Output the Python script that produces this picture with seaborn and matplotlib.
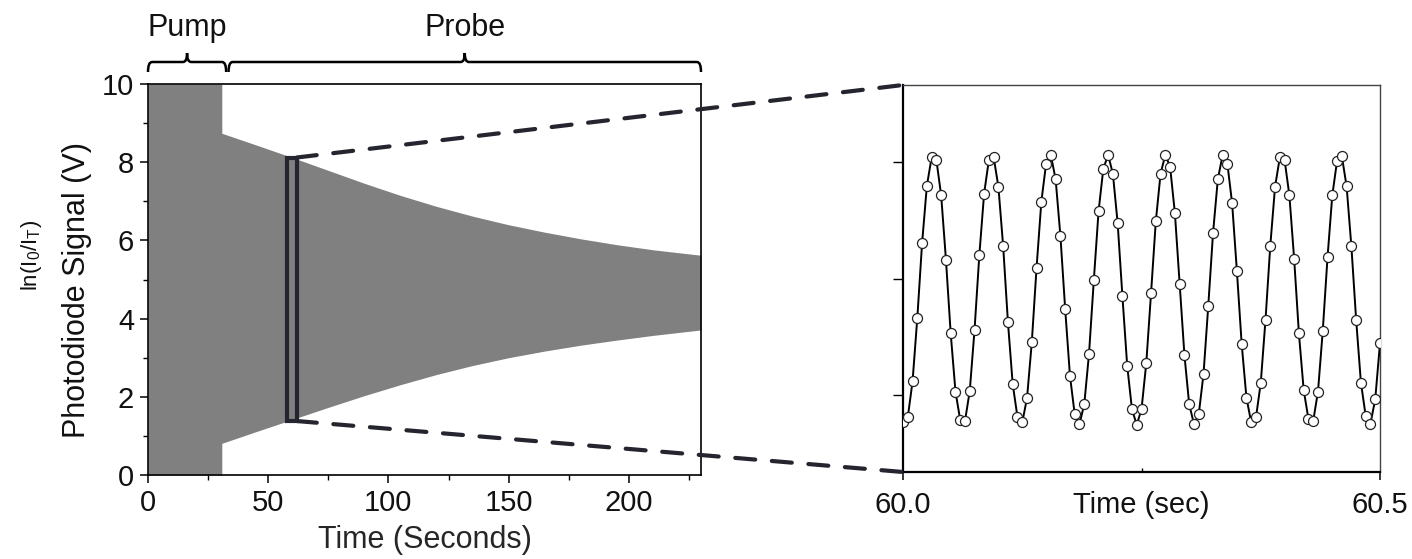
import numpy as np
import pandas as pd
import seaborn as sns
import matplotlib.pyplot as plt
import matplotlib.transforms as mtransforms
from matplotlib.patches import Rectangle, ConnectionPatch, PathPatch
from matplotlib.path import Path

# ---------------------------------------------------------------------------
# Data
# ---------------------------------------------------------------------------
# Envelope of the photodiode trace (pump phase saturates the full range,
# probe phase is a decaying oscillation about ~4.7 V)
env_time = [0, 30.7, 30.7, 45, 60, 75, 90, 105, 120, 135, 150, 165, 180, 195, 210, 230]
env_upper = [10, 10, 8.74, 8.44, 8.12, 7.79, 7.46, 7.15, 6.87, 6.62, 6.40, 6.21,
             6.04, 5.89, 5.76, 5.62]
env_lower = [0, 0, 0.81, 1.11, 1.42, 1.73, 2.03, 2.31, 2.57, 2.80, 3.00, 3.17,
             3.32, 3.45, 3.57, 3.71]

# Experiment phases shown as brackets above the trace
phase_names = ["Pump", "Probe"]
phase_start = [0, 33.5]
phase_end = [32.5, 230]

# Window that is expanded in the right-hand panel
zoom_time = (57.9, 61.9)
zoom_signal = (1.38, 8.12)

# Sampled signal between 60.0 s and 60.5 s (5 ms sampling)
fast_time = [
    60.000, 60.005, 60.010, 60.015, 60.020, 60.025, 60.030, 60.035, 60.040, 60.045,
    60.050, 60.055, 60.060, 60.065, 60.070, 60.075, 60.080, 60.085, 60.090, 60.095,
    60.100, 60.105, 60.110, 60.115, 60.120, 60.125, 60.130, 60.135, 60.140, 60.145,
    60.150, 60.155, 60.160, 60.165, 60.170, 60.175, 60.180, 60.185, 60.190, 60.195,
    60.200, 60.205, 60.210, 60.215, 60.220, 60.225, 60.230, 60.235, 60.240, 60.245,
    60.250, 60.255, 60.260, 60.265, 60.270, 60.275, 60.280, 60.285, 60.290, 60.295,
    60.300, 60.305, 60.310, 60.315, 60.320, 60.325, 60.330, 60.335, 60.340, 60.345,
    60.350, 60.355, 60.360, 60.365, 60.370, 60.375, 60.380, 60.385, 60.390, 60.395,
    60.400, 60.405, 60.410, 60.415, 60.420, 60.425, 60.430, 60.435, 60.440, 60.445,
    60.450, 60.455, 60.460, 60.465, 60.470, 60.475, 60.480, 60.485, 60.490, 60.495,
    60.500,
]
fast_signal = [
    1.28, 1.41, 2.34, 3.98, 5.91, 7.39, 8.13, 8.06, 7.15, 5.49,
    3.58, 2.08, 1.34, 1.32, 2.10, 3.68, 5.60, 7.19, 8.06, 8.14,
    7.37, 5.83, 3.87, 2.27, 1.42, 1.28, 1.91, 3.35, 5.28, 6.98,
    7.97, 8.19, 7.56, 6.10, 4.21, 2.49, 1.49, 1.24, 1.75, 3.06,
    4.95, 6.74, 7.84, 8.19, 7.71, 6.43, 4.54, 2.75, 1.62, 1.22,
    1.62, 2.81, 4.62, 6.48, 7.71, 8.20, 7.88, 6.69, 4.86, 3.02,
    1.75, 1.24, 1.49, 2.53, 4.30, 6.18, 7.56, 8.19, 7.97, 6.94,
    5.19, 3.31, 1.92, 1.28, 1.41, 2.30, 3.94, 5.85, 7.37, 8.13,
    8.06, 7.15, 5.51, 3.58, 2.12, 1.37, 1.32, 2.08, 3.65, 5.55,
    7.15, 8.04, 8.16, 7.38, 5.83, 3.93, 2.31, 1.45, 1.25, 1.88,
    3.33,
]

x_ticks_full = [0, 50, 100, 150, 200]
y_ticks_full = [0, 2, 4, 6, 8, 10]
x_ticks_zoom = [60.0, 60.5]
x_ticklabels_zoom = ["60.0", "60.5"]

# ---------------------------------------------------------------------------
# Style
# ---------------------------------------------------------------------------
sns.set_theme(style="ticks")
plt.rcParams["font.family"] = ["Liberation Sans", "DejaVu Sans"]
plt.rcParams["mathtext.fontset"] = "custom"
plt.rcParams["mathtext.rm"] = "Liberation Sans"
plt.rcParams["mathtext.it"] = "Liberation Sans:italic"
plt.rcParams["text.color"] = "#111111"
plt.rcParams["axes.edgecolor"] = "black"
plt.rcParams["xtick.color"] = "black"
plt.rcParams["ytick.color"] = "black"
plt.rcParams["xtick.labelcolor"] = "#111111"
plt.rcParams["ytick.labelcolor"] = "#111111"

W, H = 1412, 559
fig = plt.figure(figsize=(W / 100, H / 100), dpi=100)
ax1 = fig.add_axes([148 / W, 1 - 475 / H, 553 / W, 391 / H])
ax2 = fig.add_axes([903 / W, 1 - 472 / H, 477 / W, 387 / H])

trace_gray = "#808080"
frame_dark = "#25252f"

# ---------------------------------------------------------------------------
# Left panel: full trace envelope
# ---------------------------------------------------------------------------
ax1.fill_between(env_time, env_lower, env_upper, color=trace_gray, lw=0, zorder=1)
ax1.set_xlim(0, 230)
ax1.set_ylim(0, 10)
ax1.set_xticks(x_ticks_full)
ax1.set_xticks([25, 75, 125, 175, 225], minor=True)
ax1.set_yticks(y_ticks_full)
ax1.set_yticks([1, 3, 5, 7, 9], minor=True)
ax1.tick_params(which="major", direction="out", length=6, width=1.1,
                labelsize=21, pad=4)
ax1.tick_params(which="minor", direction="out", length=3.5, width=1.0)
for sp in ax1.spines.values():
    sp.set_linewidth(1.2)
    sp.set_color("black")
ax1.set_xlabel("Time (Seconds)", fontsize=22, labelpad=6)

fig.text(77 / W, 1 - 290 / H, "Photodiode Signal (V)", rotation=90,
         ha="center", va="center", fontsize=22)
fig.text(31 / W, 1 - 255 / H, r"ln(I$_\mathregular{0}$/I$_\mathregular{T}$)",
         rotation=90, ha="center", va="center", fontsize=16)

# Zoom window
ax1.add_patch(Rectangle((zoom_time[0], zoom_signal[0]),
                        zoom_time[1] - zoom_time[0],
                        zoom_signal[1] - zoom_signal[0],
                        fill=False, edgecolor=frame_dark, lw=3, zorder=3))

# Phase brackets
btrans = mtransforms.blended_transform_factory(ax1.transData, ax1.transAxes)
ax_h = 391.0
y_line = 1 + 22 / ax_h
y_end = 1 + 12 / ax_h
y_tip = 1 + 31 / ax_h
r = 1.7
for name, x0, x1 in zip(phase_names, phase_start, phase_end):
    xm = 0.5 * (x0 + x1)
    verts = [(x0, y_end), (x0, y_line), (x0 + r, y_line),
             (xm - r, y_line), (xm, y_line), (xm, y_tip),
             (xm, y_line), (xm + r, y_line),
             (x1 - r, y_line), (x1, y_line), (x1, y_end)]
    codes = [Path.MOVETO, Path.CURVE3, Path.CURVE3,
             Path.LINETO, Path.CURVE3, Path.CURVE3,
             Path.CURVE3, Path.CURVE3,
             Path.LINETO, Path.CURVE3, Path.CURVE3]
    ax1.add_patch(PathPatch(Path(verts, codes), transform=btrans, fill=False,
                            edgecolor="black", lw=1.8, clip_on=False))
    ax1.text(xm, 1 + 56 / ax_h, name, transform=btrans, ha="center",
             va="center", fontsize=22)

# ---------------------------------------------------------------------------
# Right panel: sampled signal in the zoom window
# ---------------------------------------------------------------------------
fast = pd.DataFrame({"time": fast_time, "signal": fast_signal})
sns.lineplot(data=fast, x="time", y="signal", ax=ax2, color="black", lw=1.4,
             marker="o", markersize=7.2, markerfacecolor="white",
             markeredgecolor="#222222", markeredgewidth=0.9, zorder=3)
ax2.set_xlim(60.0, 60.5)
ax2.set_ylim(0, 10)
ax2.set_xticks(x_ticks_zoom)
ax2.set_xticklabels(x_ticklabels_zoom)
ax2.set_xticks([60.25], minor=True)
ax2.set_yticks([2, 5, 8])
ax2.set_yticklabels([])
ax2.set_ylabel("")
ax2.set_xlabel("")
ax2.tick_params(axis="x", which="major", direction="out", length=6, width=1.1,
                labelsize=21, pad=7.5)
ax2.tick_params(axis="x", which="minor", direction="in", length=3, width=1.0)
ax2.tick_params(axis="y", direction="out", length=7, width=1.0)
ax2.spines["left"].set_linewidth(1.6)
ax2.spines["bottom"].set_linewidth(1.6)
ax2.spines["top"].set_linewidth(1.0)
ax2.spines["right"].set_linewidth(1.0)
ax2.spines["top"].set_color("#444444")
ax2.spines["right"].set_color("#444444")
ax2.text(0.5, -0.086, "Time (sec)", transform=ax2.transAxes, ha="center",
         va="center", fontsize=21)

# Dashed connectors from the zoom window to the expanded panel
for ya, yb in [(zoom_signal[1], 1.0), (zoom_signal[0], 0.0)]:
    con = ConnectionPatch(xyA=(zoom_time[1], ya), coordsA=ax1.transData,
                          xyB=(0.0, yb), coordsB=ax2.transAxes,
                          color=frame_dark, lw=3, linestyle=(0, (4.8, 4)),
                          zorder=5)
    fig.add_artist(con)

fig.savefig("out.png", dpi=100)
